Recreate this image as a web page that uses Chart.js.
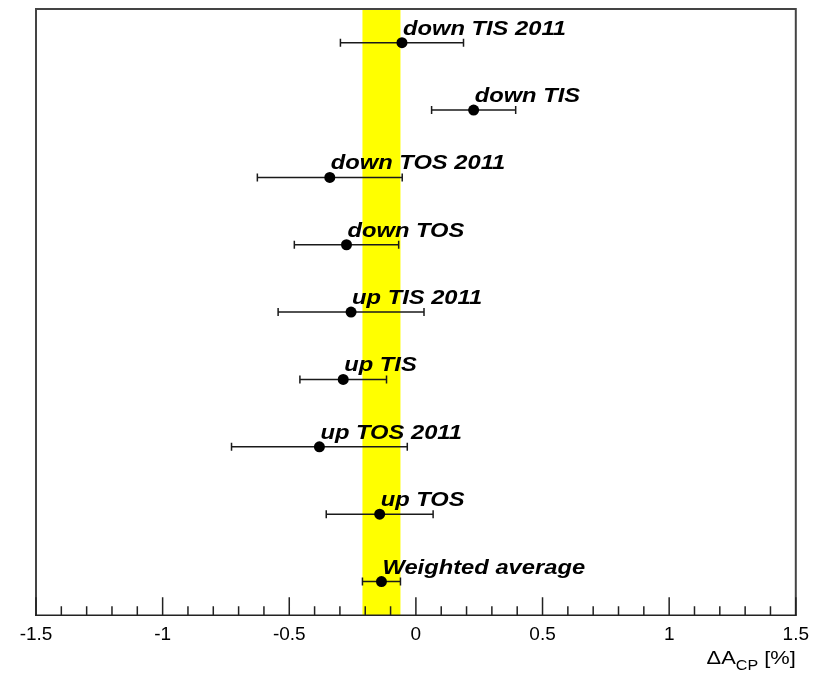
<!DOCTYPE html>
<html lang="en">
<head>
    <meta charset="UTF-8">
    <title>Delta A_CP per sample</title>
    <script src="https://cdn.jsdelivr.net/npm/chart.js@4.4.1/dist/chart.umd.min.js"></script>
    <style>
        body {
            margin: 0;
            background: white;
        }
        canvas {
            display: block;
        }
    </style>
</head>
<body>
    <canvas id="acpChart" width="817" height="677"></canvas>

    <script>
        // Measurements of delta A_CP [%], listed top to bottom
        const samples = ['down TIS 2011', 'down TIS', 'down TOS 2011', 'down TOS', 'up TIS 2011',
                         'up TIS', 'up TOS 2011', 'up TOS', 'Weighted average'];
        const dAcp = [-0.055, 0.228, -0.340, -0.274, -0.256, -0.287, -0.381, -0.143, -0.136];
        const dAcpErr = [0.243, 0.166, 0.286, 0.206, 0.288, 0.171, 0.347, 0.211, 0.075];
        const xMin = -1.5;
        const xMax = 1.5;

        const FONT = '"Liberation Sans", Arial, sans-serif';
        const avgIdx = samples.length - 1;

        // yellow band = weighted average +- its error
        const bandPlugin = {
            id: 'band',
            beforeDatasetsDraw(chart) {
                const { ctx, chartArea, scales } = chart;
                const x0 = scales.x.getPixelForValue(dAcp[avgIdx] - dAcpErr[avgIdx]);
                const x1 = scales.x.getPixelForValue(dAcp[avgIdx] + dAcpErr[avgIdx]);
                ctx.save();
                ctx.fillStyle = '#ffff00';
                ctx.fillRect(x0, chartArea.top, x1 - x0, chartArea.bottom - chartArea.top);
                ctx.restore();
            }
        };

        // horizontal error bars with small end caps
        const errorBarPlugin = {
            id: 'errorBars',
            beforeDatasetsDraw(chart) {
                const { ctx, scales } = chart;
                ctx.save();
                ctx.strokeStyle = '#1a1a1a';
                ctx.lineWidth = 1.5;
                samples.forEach((s, i) => {
                    const y = scales.y.getPixelForValue(i);
                    const xl = scales.x.getPixelForValue(dAcp[i] - dAcpErr[i]);
                    const xr = scales.x.getPixelForValue(dAcp[i] + dAcpErr[i]);
                    ctx.beginPath();
                    ctx.moveTo(xl, y);
                    ctx.lineTo(xr, y);
                    ctx.moveTo(xl, y - 4);
                    ctx.lineTo(xl, y + 4);
                    ctx.moveTo(xr, y - 4);
                    ctx.lineTo(xr, y + 4);
                    ctx.stroke();
                });
                ctx.restore();
            }
        };

        // sample names next to each point, frame, inward ticks and axis title
        const decorPlugin = {
            id: 'decor',
            afterDatasetsDraw(chart) {
                const { ctx, chartArea, scales } = chart;
                const { left, right, top, bottom } = chartArea;

                ctx.save();
                ctx.fillStyle = '#000';
                ctx.font = 'italic bold 21px ' + FONT;
                ctx.textBaseline = 'alphabetic';
                samples.forEach((s, i) => {
                    const x = scales.x.getPixelForValue(dAcp[i]);
                    const y = scales.y.getPixelForValue(i);
                    ctx.save();
                    ctx.translate(x + 1, y - 8);
                    ctx.scale(1.13, 1);
                    ctx.fillText(s, 0, 0);
                    ctx.restore();
                });

                // frame
                ctx.strokeStyle = '#444';
                ctx.lineWidth = 2;
                ctx.beginPath();
                ctx.moveTo(left, bottom);
                ctx.lineTo(left, top);
                ctx.lineTo(right, top);
                ctx.lineTo(right, bottom);
                ctx.stroke();

                // ticks pointing up from the x axis
                ctx.strokeStyle = '#222';
                ctx.lineWidth = 1.5;
                ctx.beginPath();
                scales.x.ticks.forEach(t => {
                    const px = scales.x.getPixelForValue(t.value);
                    const major = Math.abs(t.value * 2 - Math.round(t.value * 2)) < 1e-6;
                    ctx.moveTo(px, bottom);
                    ctx.lineTo(px, bottom - (major ? 18 : 9));
                });
                ctx.moveTo(left - 1, bottom);
                ctx.lineTo(right + 1, bottom);
                ctx.stroke();

                // axis title: "ΔA_CP [%]" right aligned, slightly stretched
                const stretch = 1.15;
                const big = '19px ' + FONT;
                const small = '14px ' + FONT;
                const baseY = 664;
                ctx.font = big;
                const wA = ctx.measureText('\u0394A').width;
                const wP = ctx.measureText(' [%]').width;
                ctx.font = small;
                const wS = ctx.measureText('CP').width;
                ctx.translate(right - (wA + wS + wP) * stretch, baseY);
                ctx.scale(stretch, 1);
                let x = 0;
                ctx.font = big;
                ctx.fillText('\u0394A', x, 0);
                x += wA;
                ctx.font = small;
                ctx.fillText('CP', x, 6);
                x += wS;
                ctx.font = big;
                ctx.fillText(' [%]', x, 0);
                ctx.restore();
            }
        };

        const ctx = document.getElementById('acpChart').getContext('2d');
        new Chart(ctx, {
            type: 'line',
            data: {
                labels: samples,
                datasets: [{
                    data: samples.map((s, i) => ({ x: dAcp[i], y: s })),
                    showLine: false,
                    pointRadius: 5.5,
                    pointHoverRadius: 5.5,
                    pointBackgroundColor: '#000',
                    pointBorderWidth: 0
                }]
            },
            options: {
                responsive: false,
                animation: false,
                events: [],
                layout: {
                    padding: { left: 36, right: 12, top: 9, bottom: 23 }
                },
                plugins: {
                    legend: { display: false },
                    tooltip: { enabled: false }
                },
                scales: {
                    x: {
                        type: 'linear',
                        min: xMin,
                        max: xMax,
                        grid: { drawOnChartArea: false, drawTicks: false },
                        border: { display: false },
                        ticks: {
                            stepSize: 0.1,
                            autoSkip: false,
                            maxRotation: 0,
                            padding: 8,
                            color: '#000',
                            font: { family: FONT, size: 19 },
                            callback: v => {
                                if (Math.abs(v * 2 - Math.round(v * 2)) > 1e-6) return '';
                                return String(Math.round(v * 10) / 10);
                            }
                        }
                    },
                    y: {
                        type: 'category',
                        labels: samples,
                        offset: true,
                        display: false,
                        grid: { display: false }
                    }
                }
            },
            plugins: [bandPlugin, errorBarPlugin, decorPlugin]
        });
    </script>
</body>
</html>
